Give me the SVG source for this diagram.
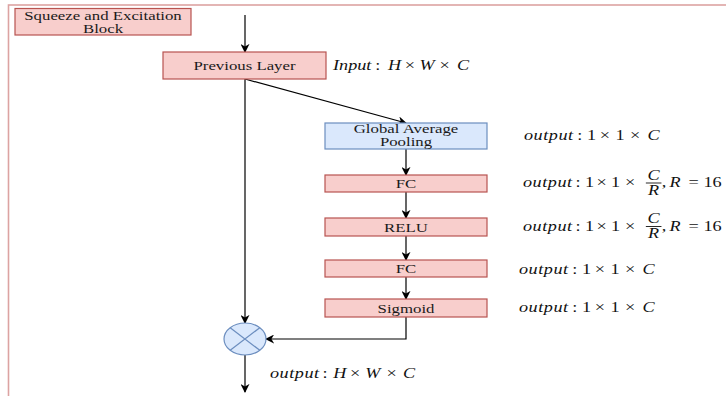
<svg xmlns="http://www.w3.org/2000/svg" width="726" height="396" viewBox="0 0 726 396">
<defs>
  <marker id="arr" viewBox="0 0 10 10" refX="9" refY="5" markerWidth="9" markerHeight="9" markerUnits="userSpaceOnUse" orient="auto">
    <path d="M0,0 L10,5 L0,10 L3,5 Z" fill="#000"/>
  </marker>
  <style>
    .pink{fill:#f8cecc;stroke:#b85450;stroke-width:1.2}
    .blue{fill:#dae8fc;stroke:#6c8ebf;stroke-width:1.2}
    .lbl{font-family:"Liberation Serif","DejaVu Serif",serif;font-size:12px;fill:#1a1a1a;text-anchor:middle}
    .math{font-family:"Liberation Serif","DejaVu Serif",serif;font-size:14px;fill:#111}
    .mid{text-anchor:middle}
    .it{font-style:italic}
    .ow{letter-spacing:0.4px}
    .conn{fill:none;stroke:#000;stroke-width:1.2}
  </style>
</defs>
<rect width="726" height="396" fill="#fff"/>
<rect id="container" x="8.5" y="5" width="740" height="420" fill="none" stroke="#dca3a2" stroke-width="1.6"/>

<g id="title">
  <rect class="pink" x="15" y="8.5" width="176" height="26.5"/>
  <text class="lbl" transform="translate(103,20) scale(1.4,1)">Squeeze and Excitation</text>
  <text class="lbl" transform="translate(103,33) scale(1.4,1)">Block</text>
</g>

<g id="connectors">
  <path class="conn" d="M245,15 L245,52" marker-end="url(#arr)"/>
  <path class="conn" d="M245,79 L406,123" marker-end="url(#arr)"/>
  <path class="conn" d="M245,79 L245,323" marker-end="url(#arr)"/>
  <path class="conn" d="M406,149 L406,175" marker-end="url(#arr)"/>
  <path class="conn" d="M406,192 L406,218" marker-end="url(#arr)"/>
  <path class="conn" d="M406,236 L406,260" marker-end="url(#arr)"/>
  <path class="conn" d="M406,277 L406,299" marker-end="url(#arr)"/>
  <path class="conn" d="M406,317 L406,339 L266,339" marker-end="url(#arr)"/>
  <path class="conn" d="M245,355 L245,392" marker-end="url(#arr)"/>
</g>

<g id="previous-layer">
  <rect class="pink" x="163" y="52" width="163" height="27"/>
  <text class="lbl" transform="translate(244.5,70) scale(1.4,1)">Previous Layer</text>
</g>

<g id="gap">
  <rect class="blue" x="325" y="123" width="162" height="26"/>
  <text class="lbl" transform="translate(406,133) scale(1.4,1)">Global Average</text>
  <text class="lbl" transform="translate(406,146) scale(1.4,1)">Pooling</text>
</g>

<g id="fc1">
  <rect class="pink" x="325" y="175" width="162" height="17"/>
  <text class="lbl" transform="translate(406,188) scale(1.4,1)">FC</text>
</g>

<g id="relu">
  <rect class="pink" x="325" y="218" width="162" height="18"/>
  <text class="lbl" transform="translate(406,231.5) scale(1.4,1)">RELU</text>
</g>

<g id="fc2">
  <rect class="pink" x="325" y="260" width="162" height="17"/>
  <text class="lbl" transform="translate(406,273) scale(1.4,1)">FC</text>
</g>

<g id="sigmoid">
  <rect class="pink" x="325" y="299" width="162" height="18"/>
  <text class="lbl" transform="translate(406,312.5) scale(1.4,1)">Sigmoid</text>
</g>

<g id="multiply">
  <ellipse cx="245" cy="339" rx="21" ry="16" fill="#dae8fc" stroke="#6c8ebf" stroke-width="1.2"/>
  <path d="M230.2,327.7 L259.8,350.3 M259.8,327.7 L230.2,350.3" stroke="#6c8ebf" stroke-width="1.2"/>
</g>

<g id="labels">
  <!-- Input : H x W x C -->
  <g transform="translate(333,70) scale(1.3,1)">
    <text class="math it">Input</text>
    <text class="math mid"><tspan x="34.5">:</tspan><tspan x="47.3" class="it">H</tspan><tspan x="59.2">×</tspan><tspan x="72.3" class="it">W</tspan><tspan x="85.8">×</tspan><tspan x="100" class="it">C</tspan></text>
  </g>
  <!-- GAP output -->
  <g transform="translate(524,140) scale(1.3,1)">
    <text class="math it ow">output</text>
    <text class="math mid"><tspan x="43">:</tspan><tspan x="52">1</tspan><tspan x="62.3">×</tspan><tspan x="73.8">1</tspan><tspan x="85.4">×</tspan><tspan x="99.6" class="it">C</tspan></text>
  </g>
  <!-- FC1 output -->
  <g transform="translate(523,187) scale(1.3,1)">
    <text class="math it ow">output</text>
    <text class="math mid"><tspan x="42.3">:</tspan><tspan x="51.2">1</tspan><tspan x="60.4">×</tspan><tspan x="71.2">1</tspan><tspan x="82.5">×</tspan><tspan x="108.5">,</tspan><tspan x="117" class="it">R</tspan><tspan x="131.2">=</tspan><tspan x="145.8">16</tspan></text>
    <text class="math it mid" x="100.5" y="-7.5">C</text>
    <text class="math it mid" x="100.5" y="7.5">R</text>
    <line x1="94.5" y1="-4" x2="106.5" y2="-4" stroke="#111" stroke-width="0.9"/>
  </g>
  <!-- RELU output -->
  <g transform="translate(523,230.5) scale(1.3,1)">
    <text class="math it ow">output</text>
    <text class="math mid"><tspan x="42.3">:</tspan><tspan x="51.2">1</tspan><tspan x="60.4">×</tspan><tspan x="71.2">1</tspan><tspan x="82.5">×</tspan><tspan x="108.5">,</tspan><tspan x="117" class="it">R</tspan><tspan x="131.2">=</tspan><tspan x="145.8">16</tspan></text>
    <text class="math it mid" x="100.5" y="-7.5">C</text>
    <text class="math it mid" x="100.5" y="7.5">R</text>
    <line x1="94.5" y1="-4" x2="106.5" y2="-4" stroke="#111" stroke-width="0.9"/>
  </g>
  <!-- FC2 output -->
  <g transform="translate(519,274) scale(1.3,1)">
    <text class="math it ow">output</text>
    <text class="math mid"><tspan x="43">:</tspan><tspan x="52">1</tspan><tspan x="62.3">×</tspan><tspan x="73.8">1</tspan><tspan x="85.4">×</tspan><tspan x="99.6" class="it">C</tspan></text>
  </g>
  <!-- Sigmoid output -->
  <g transform="translate(519,311.5) scale(1.3,1)">
    <text class="math it ow">output</text>
    <text class="math mid"><tspan x="43">:</tspan><tspan x="52">1</tspan><tspan x="62.3">×</tspan><tspan x="73.8">1</tspan><tspan x="85.4">×</tspan><tspan x="99.6" class="it">C</tspan></text>
  </g>
  <!-- final output -->
  <g transform="translate(270,378) scale(1.3,1)">
    <text class="math it ow">output</text>
    <text class="math mid"><tspan x="42.3">:</tspan><tspan x="53.8" class="it">H</tspan><tspan x="65.4">×</tspan><tspan x="79.2" class="it">W</tspan><tspan x="93.5">×</tspan><tspan x="107" class="it">C</tspan></text>
  </g>
</g>
</svg>
